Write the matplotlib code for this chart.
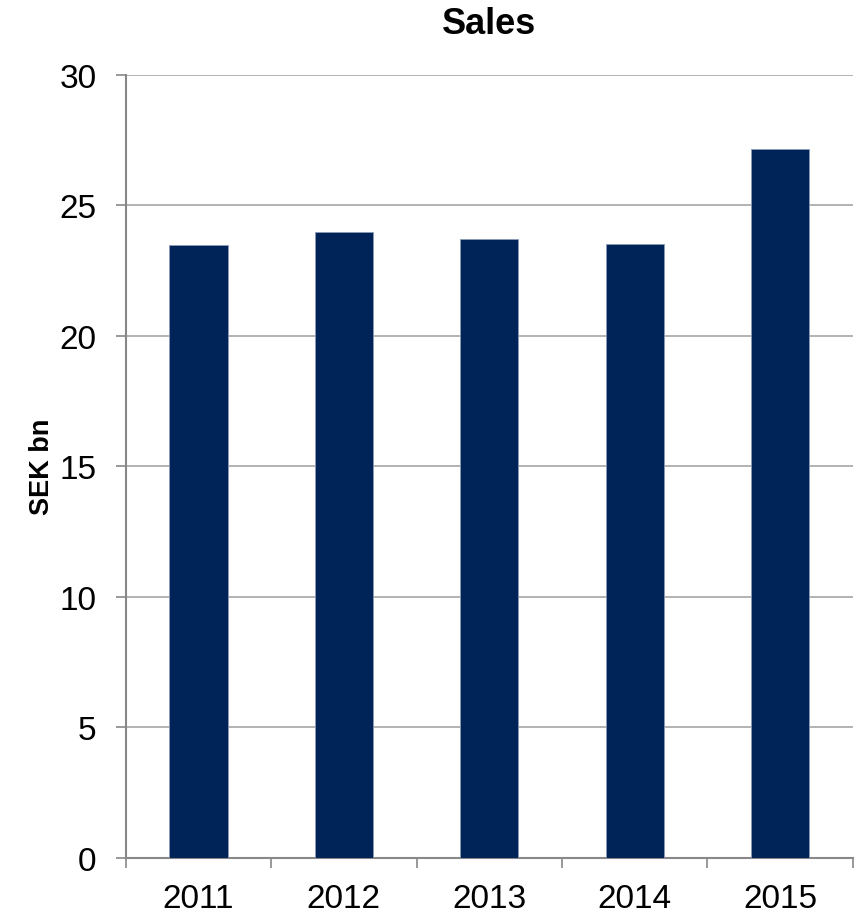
import matplotlib.pyplot as plt
import numpy as np

plt.rcParams['font.family'] = ['Liberation Sans', 'DejaVu Sans']

years = ['2011', '2012', '2013', '2014', '2015']
sales = [23.46, 23.98, 23.71, 23.50, 27.14]

fig = plt.figure(figsize=(8.63, 9.2), dpi=100)
ax = fig.add_axes([0.1457, 0.0666, 0.8424, 0.8511])

x = np.arange(len(years))
ax.bar(x, sales, width=0.4, color='#002358', edgecolor='#8a9ab8', linewidth=0.6, zorder=3)

ax.set_xlim(-0.5, len(years) - 0.5)
ax.set_ylim(0, 30)
ax.set_yticks(range(0, 31, 5))

# category labels centred, tick marks on the boundaries
ax.set_xticks(x)
ax.set_xticklabels(years)
ax.set_xticks(np.arange(-0.5, len(years)), minor=True)
ax.tick_params(axis='x', which='major', length=0, pad=18, labelsize=24)
ax.tick_params(axis='x', which='minor', length=7, width=1.2, color='#888888', direction='out')
ax.tick_params(axis='y', length=7, width=1.2, color='#888888', direction='out', pad=14, labelsize=24)

ax.grid(axis='y', color='#a6a6a6', linewidth=1.2, zorder=0)
for side in ['top', 'right']:
    ax.spines[side].set_visible(False)
for side in ['left', 'bottom']:
    ax.spines[side].set_color('#888888')
    ax.spines[side].set_linewidth(1.5)

ax.set_ylabel('SEK bn', fontsize=19.5, fontweight='bold', labelpad=3)
ax.set_title('Sales', fontsize=26, fontweight='bold', pad=30)

fig.savefig('out.png', dpi=100)
